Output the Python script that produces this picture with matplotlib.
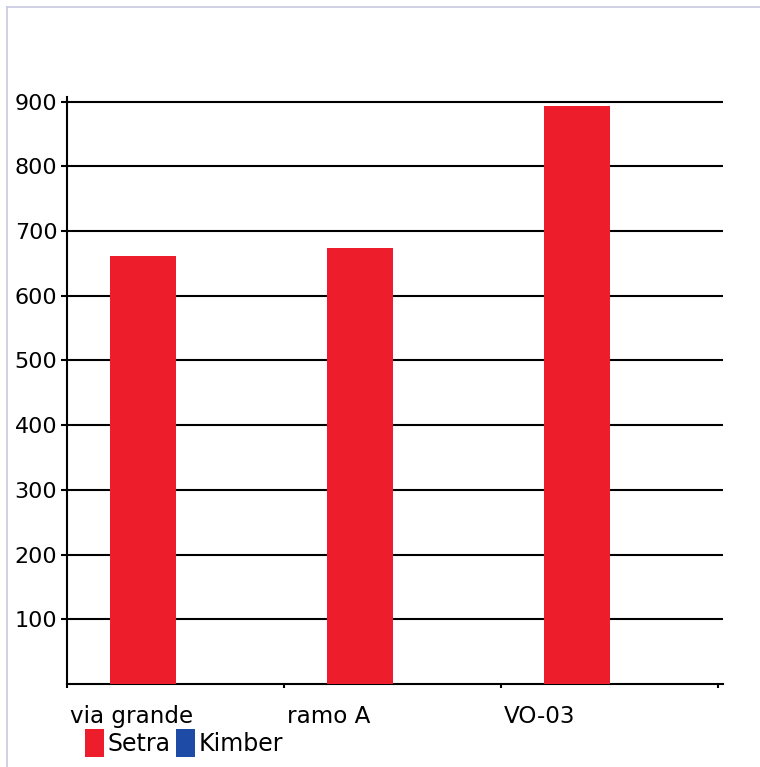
import matplotlib
matplotlib.use("Agg")
import matplotlib.pyplot as plt
from matplotlib.lines import Line2D
from matplotlib.transforms import offset_copy

categories = ['via grande', 'ramo A', 'VO-03']
series_names = ['Setra', 'Kimber']
setra = [662, 674, 894]
kimber = [0, 0, 0]
yticks = [100, 200, 300, 400, 500, 600, 700, 800, 900]

RED = '#EE1D2B'
BLUE = '#1E4BA6'

W, H = 760, 767
fig = plt.figure(figsize=(W / 100, H / 100), dpi=100)
fig.patch.set_facecolor('white')

ax_l, ax_r, ax_b, ax_t = 67, 723, 684, 97
ax = fig.add_axes([ax_l / W, (H - ax_b) / H, (ax_r - ax_l) / W, (ax_b - ax_t) / H])

cat_px = 217.0
x0 = -0.5
x1 = x0 + (ax_r - ax_l) / cat_px
ax.set_xlim(x0, x1)
px_per_unit = 64.7
ax.set_ylim(0, (ax_b - ax_t) / px_per_unit * 100)

bw = 0.30
xs = list(range(len(categories)))
ax.bar([x - bw for x in xs], setra, width=bw, align='edge', color=RED, label=series_names[0], zorder=3)
ax.bar(xs, kimber, width=bw, align='edge', color=BLUE, label=series_names[1], zorder=3)

for v in yticks:
    ax.axhline(v, color='black', lw=1.5, zorder=2)

ax.set_yticks(yticks)
ax.set_yticklabels([str(v) for v in yticks])
ax.tick_params(axis='y', length=4, width=1.5, pad=3, labelsize=16, colors='black')

ax.set_xticks([x0 + i for i in range(len(categories) + 1)])
ax.set_xticklabels(categories + [''])
ax.tick_params(axis='x', length=3, width=1.5, pad=12, labelsize=16.6)
for lbl in ax.get_xticklabels():
    lbl.set_horizontalalignment('left')
    lbl.set_transform(offset_copy(lbl.get_transform(), fig=fig, x=3, y=0, units='dots'))

for s in ['top', 'right']:
    ax.spines[s].set_visible(False)
for s in ['left', 'bottom']:
    ax.spines[s].set_linewidth(1.5)
    ax.spines[s].set_color('black')

leg = fig.legend(loc='center left', bbox_to_anchor=(85 / W, (H - 743) / H),
                 ncol=2, frameon=False, fontsize=17, borderpad=0, borderaxespad=0,
                 handlelength=0.8, handleheight=1.5, handletextpad=0.17,
                 columnspacing=0.21)

# light page border
fig.add_artist(Line2D([7 / W, 7 / W], [0, (H - 7) / H], color='#C9C9E2', lw=1.2))
fig.add_artist(Line2D([7 / W, 1], [(H - 7) / H, (H - 7) / H], color='#C9C9E2', lw=1.2))

fig.savefig('out.png', dpi=100, facecolor='white')
